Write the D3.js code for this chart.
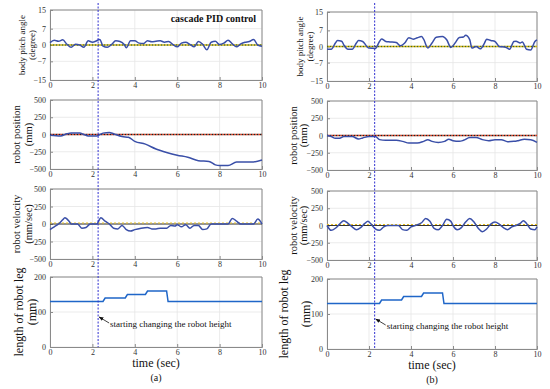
<!DOCTYPE html>
<html>
<head>
<meta charset="utf-8">
<script src="https://cdn.jsdelivr.net/npm/d3@7"></script>
<style>
  body { margin: 0; background: #fff; }
  text { font-family: "Liberation Serif", "Times New Roman", serif; }
</style>
</head>
<body>
<div id="chart"></div>
<script>
"use-strict";

// time ticks shared by all panels
const timeTicks = [0, 2, 4, 6, 8, 10];
const pitchTicks = [15, 7, 0, -7, -15];
const posTicks = [500, 250, 0, -250, -500];
const legTicks = [0, 100, 200];

// (a) cascade PID control: [time, value]
const pitchA = [[0,1.0],[0.2,2.0],[0.4,1.6],[0.6,2.2],[0.8,0.3],[1.0,-1.0],[1.2,0.3],[1.4,0.0],[1.6,-1.0],[1.8,1.8],
  [2.0,1.2],[2.2,1.8],[2.35,2.4],[2.5,-0.5],[2.7,-1.0],[2.9,0.2],[3.1,1.8],[3.3,1.5],[3.5,0.2],[3.6,-1.2],
  [3.8,1.8],[4.0,1.8],[4.2,0.8],[4.4,0.6],[4.6,1.8],[4.8,1.4],[5.0,1.6],[5.2,1.8],[5.4,1.2],[5.6,1.5],
  [5.8,0.2],[6.0,-0.8],[6.2,0.8],[6.4,1.2],[6.6,0.3],[6.8,-0.8],[7.0,1.5],[7.2,0.3],[7.4,-2.0],[7.6,1.2],
  [7.8,1.6],[8.0,0.2],[8.2,0.8],[8.4,2.0],[8.6,0.5],[8.8,-0.8],[9.0,0.5],[9.2,1.2],[9.4,1.5],[9.6,2.4],[9.8,0.0],[10,-0.5]];
const posA = [[0,-10],[0.5,-20],[0.8,10],[1.0,20],[1.4,20],[1.6,0],[1.8,-20],[2.2,-20],[2.5,20],[2.8,30],
  [3.0,10],[3.4,-30],[3.7,-40],[4.0,-100],[4.5,-140],[5.0,-210],[5.5,-260],[6.0,-300],[6.5,-330],[7.0,-380],
  [7.5,-390],[7.8,-440],[8.0,-450],[8.4,-450],[8.8,-400],[9.0,-400],[9.5,-400],[10,-370]];
const velA = [[0,-80],[0.2,-40],[0.4,0],[0.6,60],[0.7,90],[0.9,40],[1.0,0],[1.3,0],[1.5,-60],[1.7,-50],
  [1.9,0],[2.2,0],[2.4,90],[2.6,40],[2.8,0],[3.0,-60],[3.2,-70],[3.4,-20],[3.6,-80],[3.8,-100],
  [4.0,-80],[4.3,-60],[4.6,-50],[4.8,-70],[5.0,-70],[5.2,-60],[5.5,-60],[5.7,-20],[5.9,-30],[6.0,-10],
  [6.2,-40],[6.4,-10],[6.6,-60],[6.8,-20],[7.0,-20],[7.2,-80],[7.4,-70],[7.6,0],[8.0,0],[8.4,0],
  [8.6,80],[8.8,40],[9.0,0],[9.6,0],[9.8,70],[10,0]];

// (b)
const pitchB = [[0,-1.2],[0.2,-1.2],[0.4,1.5],[0.5,2.6],[0.7,2.3],[0.8,0.7],[1.0,-1.2],[1.2,-1.2],[1.4,1.5],[1.5,2.6],
  [1.7,2.2],[1.9,0],[2.0,-0.7],[2.3,-0.9],[2.5,2.2],[2.6,3.3],[2.8,2.2],[3.0,2.0],[3.3,1.7],[3.5,0.3],
  [3.7,1.5],[3.9,3.8],[4.1,3.2],[4.3,3.8],[4.5,4.3],[4.6,3.2],[4.8,-0.6],[5.0,1.5],[5.2,4.0],[5.5,4.3],
  [5.7,2.9],[5.9,-0.4],[6.1,1.5],[6.3,3.9],[6.5,4.1],[6.6,4.9],[6.8,2.9],[6.9,-0.7],[7.1,0],[7.3,-1.0],
  [7.5,1.5],[7.6,3.2],[7.8,2.6],[8.0,2.2],[8.2,0],[8.5,-0.3],[8.7,-1.2],[8.9,2.2],[9.0,2.3],[9.2,1.5],
  [9.3,2.0],[9.5,-1.2],[9.7,-1.5],[9.9,2.2],[10,2.9]];
const posB = [[0,0],[0.2,-15],[0.4,-40],[0.6,-40],[0.8,-15],[1.2,-15],[1.5,-50],[1.7,-35],[2.0,-15],[2.3,-15],
  [2.5,-60],[2.8,-70],[3.3,-70],[3.6,-85],[3.9,-110],[4.3,-110],[4.6,-85],[4.8,-60],[5.0,-85],[5.3,-100],
  [5.6,-85],[5.8,-55],[6.0,-75],[6.3,-85],[6.5,-70],[6.8,-30],[7.1,-30],[7.4,-60],[7.7,-75],[8.0,-60],
  [8.3,-60],[8.6,-90],[8.9,-85],[9.1,-75],[9.4,-55],[9.7,-60],[10,-100]];
const velB = [[0,0],[0.2,-70],[0.4,-40],[0.6,20],[0.8,70],[1.0,30],[1.2,-20],[1.4,-60],[1.6,-30],[1.8,30],
  [1.95,60],[2.1,20],[2.3,-50],[2.5,-70],[2.7,-20],[2.9,0],[3.4,0],[3.6,-60],[3.8,-70],[4.0,-20],
  [4.2,0],[4.5,40],[4.7,100],[4.9,60],[5.1,-40],[5.3,-60],[5.5,0],[5.7,90],[5.9,60],[6.0,0],
  [6.2,-60],[6.4,-30],[6.6,50],[6.8,100],[7.0,50],[7.2,-40],[7.4,-90],[7.6,-50],[7.8,20],[8.0,50],
  [8.2,20],[8.4,-30],[8.6,-60],[8.8,-20],[9.0,0],[9.2,30],[9.35,70],[9.5,30],[9.7,-50],[9.9,-60],[10,-20]];

// leg length steps (same command for both runs)
const legLen = [[0,130],[2.5,130],[2.6,140],[3.55,140],[3.65,150],[4.5,150],[4.6,160],[5.5,160],[5.57,130],[10,130]];

const startTime = 2.27;
const noteText = "starting changing the robot height";

const msm = { width: 550, height: 389 };

const svg = d3.select("#chart").append("svg")
    .attr("width", msm.width)
    .attr("height", msm.height);

// column layouts
const columns = [
    { x0: 50, x1: 262, tops: [[10, 80], [100, 169], [189, 259], [277, 347]],
      labelX: [[23, 33], [18, 30], [18, 30], [20, 33]],
      data: [pitchA, posA, velA, legLen], tag: "(a)", title: true },
    { x0: 327, x1: 537, tops: [[12, 81], [101, 170], [191, 260], [279, 349]],
      labelX: [[301, 311], [295, 305], [295, 305], [285, 307]],
      data: [pitchB, posB, velB, legLen], tag: "(b)", title: false }
];

const panelDefs = [
    { domain: [-15, 15], ticks: pitchTicks, label: ["body pitch angle", "(degree)"], fs: 9, ref: "pitch" },
    { domain: [-500, 500], ticks: posTicks, label: ["robot position", "(mm)"], fs: 10.5, ref: "pos" },
    { domain: [-500, 500], ticks: posTicks, label: ["robot velocity", "(mm/sec)"], fs: 10.5, ref: "vel" },
    { domain: [0, 200], ticks: legTicks, label: ["length of robot leg", "(mm)"], fs: 12, ref: null }
];

svg.append("defs").append("marker")
    .attr("id", "arrow")
    .attr("viewBox", "0 0 10 10")
    .attr("refX", 9).attr("refY", 5)
    .attr("markerWidth", 6).attr("markerHeight", 6)
    .attr("orient", "auto")
    .append("path")
    .attr("d", "M0,1 L10,5 L0,9 Z")
    .attr("fill", "#111");

columns.forEach((col) => {
    let xScale = d3.scaleLinear().domain([0, 10]).range([col.x0, col.x1]);

    panelDefs.forEach((def, i) => {
        let [top, bottom] = col.tops[i];
        let yScale = d3.scaleLinear().domain(def.domain).range([bottom, top]);
        let g = svg.append("g");

        // grid
        g.selectAll(".vgrid").data(timeTicks).enter().append("line")
            .attr("x1", (d) => xScale(d)).attr("x2", (d) => xScale(d))
            .attr("y1", top).attr("y2", bottom)
            .attr("stroke", "#e6e6e6").attr("stroke-width", 0.8);
        g.selectAll(".hgrid").data(def.ticks).enter().append("line")
            .attr("x1", col.x0).attr("x2", col.x1)
            .attr("y1", (d) => yScale(d)).attr("y2", (d) => yScale(d))
            .attr("stroke", "#e6e6e6").attr("stroke-width", 0.8);

        // axes
        let xAxis = d3.axisBottom(xScale).tickValues(timeTicks).tickSize(-3).tickPadding(2);
        let gx = g.append("g").attr("transform", "translate(0," + bottom + ")").call(xAxis);
        let yAxis = d3.axisLeft(yScale).tickValues(def.ticks).tickSize(-3).tickPadding(4);
        let gy = g.append("g").attr("transform", "translate(" + col.x0 + ",0)").call(yAxis);
        [gx, gy].forEach((a) => {
            a.attr("font-family", null);
            a.select(".domain").attr("stroke", "#8a8a8a");
            a.selectAll(".tick line").attr("stroke", "#8a8a8a");
            a.selectAll("text").attr("fill", "#333").style("font-size", "8px")
                .style("font-family", "Liberation Serif");
        });
        // box top / right
        g.append("line").attr("x1", col.x0).attr("x2", col.x1).attr("y1", top).attr("y2", top)
            .attr("stroke", "#8a8a8a");
        g.append("line").attr("x1", col.x1).attr("x2", col.x1).attr("y1", top).attr("y2", bottom)
            .attr("stroke", "#8a8a8a");

        // zero reference
        if (def.ref) {
            let zy = yScale(0);
            if (def.ref == "vel") {
                g.append("line").attr("x1", col.x0).attr("x2", col.x1).attr("y1", zy).attr("y2", zy)
                    .attr("stroke", "#333").attr("stroke-width", 1.2);
                g.append("line").attr("x1", col.x0).attr("x2", col.x1).attr("y1", zy - 1).attr("y2", zy - 1)
                    .attr("stroke", "#e8c020").attr("stroke-width", 1).attr("stroke-dasharray", "2,2");
            } else {
                let c1 = def.ref == "pitch" ? "#4a6a10" : "#202020";
                let c2 = def.ref == "pitch" ? "#d8b000" : "#e03a1a";
                g.append("line").attr("x1", col.x0).attr("x2", col.x1).attr("y1", zy).attr("y2", zy)
                    .attr("stroke", c1).attr("stroke-width", 1.3).attr("stroke-dasharray", "1.5,1.5");
                g.append("line").attr("x1", col.x0).attr("x2", col.x1).attr("y1", zy).attr("y2", zy)
                    .attr("stroke", c2).attr("stroke-width", 1.3).attr("stroke-dasharray", "1.5,1.5")
                    .attr("stroke-dashoffset", 1.5);
            }
        }

        // data line
        let line = d3.line()
            .x((d) => xScale(d[0]))
            .y((d) => yScale(d[1]))
            .curve(i == 3 ? d3.curveLinear : d3.curveMonotoneX);
        g.append("path").datum(col.data[i])
            .attr("fill", "none")
            .attr("stroke", i == 3 ? "#1f66c8" : "#3a4fa8")
            .attr("stroke-width", 1.5)
            .attr("d", line);

        // y label
        let cy = (top + bottom) / 2;
        def.label.forEach((t, k) => {
            svg.append("text")
                .attr("transform", "translate(" + col.labelX[i][k] + "," + cy + ") rotate(-90)")
                .attr("text-anchor", "middle")
                .attr("dominant-baseline", "middle")
                .style("font-size", def.fs + "px")
                .attr("fill", "#111")
                .text(t);
        });

        if (i == 3) {
            // annotation
            let ax = xScale(startTime);
            svg.append("line")
                .attr("x1", ax + 11).attr("y1", bottom - 24)
                .attr("x2", ax + 1).attr("y2", bottom - 30)
                .attr("stroke", "#111").attr("stroke-width", 0.8)
                .attr("marker-end", "url(#arrow)");
            svg.append("text")
                .attr("x", ax + 12).attr("y", bottom - 20)
                .style("font-size", "9px").attr("fill", "#111")
                .text(noteText);
            let mid = (col.x0 + col.x1) / 2;
            svg.append("text")
                .attr("x", mid).attr("y", bottom + 20)
                .attr("text-anchor", "middle")
                .style("font-size", "12px").attr("fill", "#111")
                .text("time (sec)");
            svg.append("text")
                .attr("x", mid).attr("y", bottom + 34)
                .attr("text-anchor", "middle")
                .style("font-size", "10px").attr("fill", "#111")
                .text(col.tag);
        }
    });

    // start marker across all panels
    let sx = xScale(startTime);
    svg.append("line")
        .attr("x1", sx).attr("x2", sx)
        .attr("y1", 3).attr("y2", col.tops[3][1])
        .attr("stroke", "#3030d0").attr("stroke-width", 1)
        .attr("stroke-dasharray", "2,1.5");

    if (col.title) {
        svg.append("text")
            .attr("x", col.x1 - 6).attr("y", 22)
            .attr("text-anchor", "end")
            .style("font-size", "10px").style("font-weight", "bold")
            .attr("fill", "#111")
            .text("cascade PID control");
    }
});
</script>
</body>
</html>
